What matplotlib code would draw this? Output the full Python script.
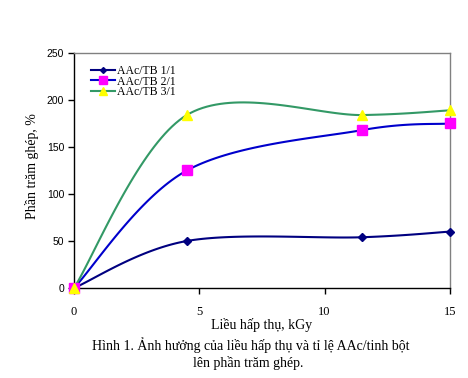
import numpy as np
import matplotlib
matplotlib.use("Agg")
import matplotlib.pyplot as plt
from matplotlib.lines import Line2D

# Data
dose = [0, 4.5, 11.5, 15]
s1 = [0, 50, 54, 60]
s2 = [0, 125, 168, 175]
s3 = [0, 184, 184, 189]
labels = ["AAc/TB 1/1", "AAc/TB 2/1", "AAc/TB 3/1"]
xticks = [0, 5, 10, 15]
yticks = [0, 50, 100, 150, 200, 250]


def smooth(x, y, n=40):
    x = np.asarray(x, float); y = np.asarray(y, float)
    P = np.column_stack([x, y])
    Pe = np.vstack([P[0], P, P[-1]])
    out = []
    t = np.linspace(0, 1, n)[:, None]
    for i in range(len(P) - 1):
        p0 = P[i]; p3 = P[i + 1]
        c1 = p0 + (Pe[i + 2] - Pe[i]) / 6.0
        c2 = p3 - (Pe[i + 3] - Pe[i + 1]) / 6.0
        seg = (1 - t) ** 3 * p0 + 3 * (1 - t) ** 2 * t * c1 + 3 * (1 - t) * t ** 2 * c2 + t ** 3 * p3
        out.append(seg)
    out = np.vstack(out)
    return out[:, 0], out[:, 1]


fig = plt.figure(figsize=(4.68, 3.78), dpi=100)
ax = fig.add_axes([74 / 468, 1 - 288 / 378, (450 - 74) / 468, (288 - 53) / 378])

styles = [
    dict(color="#000080", mfc="#000080", mec="#000080", marker="D", ms=4, lw=1.5),
    dict(color="#0000CC", mfc="#FF00FF", mec="#FF00FF", marker="s", ms=7, lw=1.5),
    dict(color="#339966", mfc="#FFFF00", mec="#FFFF00", marker="^", ms=7, lw=1.5),
]
handles = []
for ys, st, lab in zip([s1, s2, s3], styles, labels):
    xs, yy = smooth(dose, ys)
    ax.plot(xs, yy, color=st["color"], lw=st["lw"], zorder=2, clip_on=False)
    ax.plot(dose, ys, linestyle="none", marker=st["marker"], ms=st["ms"],
            mfc=st["mfc"], mec=st["mec"], zorder=3, clip_on=False)
    handles.append(Line2D([], [], color=st["color"], lw=st["lw"], marker=st["marker"],
                          ms=st["ms"] - 1, mfc=st["mfc"], mec=st["mec"]))

ax.set_xlim(0, 15)
ax.set_ylim(0, 250)
ax.set_xticks(xticks)
ax.set_yticks(yticks)
ax.set_xticklabels([str(v) for v in xticks], fontfamily="Liberation Serif", fontsize=9)
ax.set_yticklabels([str(v) for v in yticks], fontfamily="Liberation Sans", fontsize=7.5)
ax.tick_params(axis="x", direction="out", length=4, pad=9, width=1)
ax.tick_params(axis="y", direction="out", length=4, pad=3, width=1)
for s in ["top", "right"]:
    ax.spines[s].set_color("#808080")
    ax.spines[s].set_linewidth(1)
for s in ["left", "bottom"]:
    ax.spines[s].set_color("black")
    ax.spines[s].set_linewidth(1)

leg = ax.legend(handles, labels, loc="upper left", bbox_to_anchor=(0.022, 0.985),
                frameon=False, prop={"family": "Liberation Serif", "size": 8.5},
                handlelength=2.1, handletextpad=0.15, labelspacing=-0.1, borderpad=0.2)

fig.text(32 / 468, 1 - 166 / 378, "Phần trăm ghép, %", rotation=90, ha="center", va="center",
         fontfamily="Liberation Serif", fontsize=10)
fig.text(262 / 468, 1 - 325 / 378, "Liều hấp thụ, kGy", ha="center", va="center",
         fontfamily="Liberation Serif", fontsize=10)
fig.text(251 / 468, 1 - 345 / 378, "Hình 1. Ảnh hưởng của liều hấp thụ và tỉ lệ AAc/tinh bột",
         ha="center", va="center", fontfamily="Liberation Serif", fontsize=10)
fig.text(248 / 468, 1 - 363 / 378, "lên phần trăm ghép.", ha="center", va="center",
         fontfamily="Liberation Serif", fontsize=10)

fig.savefig("out.png", dpi=100)
